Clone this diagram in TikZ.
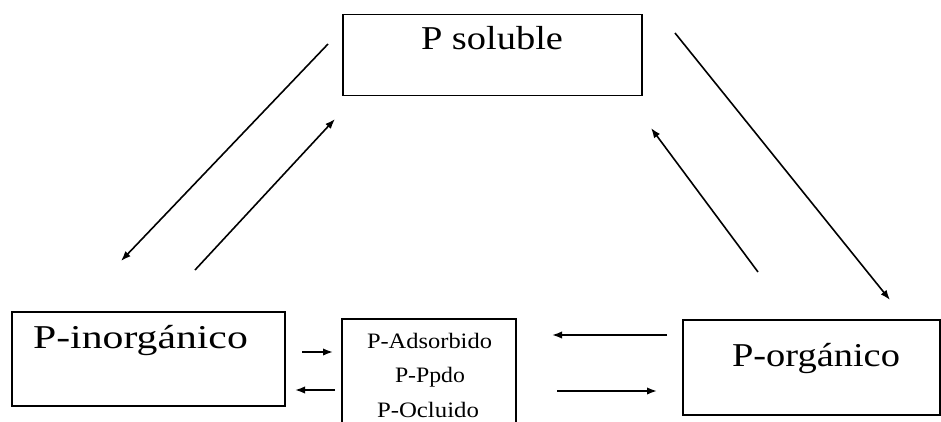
\documentclass[tikz,border=0pt]{standalone}
\usepackage{fontspec}
\setmainfont{Liberation Serif}
\usetikzlibrary{arrows.meta}
% stretch a label horizontally to a given width, keeping its height
\newcommand{\stretchto}[2]{\resizebox{#1}{\height}{#2}}
\begin{document}
\begin{tikzpicture}[x=0.75pt,y=-0.75pt,
  pool/.style={draw,line width=1.2pt,rectangle,inner sep=0pt,outer sep=0pt},
  bigtxt/.style={font=\fontsize{25pt}{29pt}\selectfont,anchor=base,inner sep=0pt},
  smalltxt/.style={font=\fontsize{16.5pt}{19pt}\selectfont,anchor=base,inner sep=0pt},
  flow/.style={line width=1.2pt,-{Latex[length=7.5pt,width=5.5pt]}}]
\useasboundingbox (0,0) rectangle (941,421);

% phosphorus pools
\node[pool,minimum width=224.25pt,minimum height=60.75pt] (sol) at (492.5,55) {};
\node[pool,minimum width=204.75pt,minimum height=70.5pt] (inorg) at (148.5,359) {};
\node[pool,minimum width=192.75pt,minimum height=71.25pt] (org) at (811.5,367.5) {};
\node[pool,minimum width=130.5pt,minimum height=90.75pt] (mid) at (429,379.5) {};

% labels
\node[bigtxt] (solt) at (492,50) {\stretchto{106.5pt}{P soluble}};
\node[bigtxt] (inorgt) at (140.5,348) {\stretchto{161pt}{P-inorgánico}};
\node[bigtxt] (orgt) at (816,366) {\stretchto{126pt}{P-orgánico}};
\node[smalltxt] (ads) at (429.5,348) {\stretchto{93.75pt}{P-Adsorbido}};
\node[smalltxt] (ppd) at (430,382.5) {\stretchto{52.5pt}{P-Ppdo}};
\node[smalltxt] (ocl) at (428,417) {\stretchto{76.5pt}{P-Ocluido}};

% arrow end points
\coordinate (a1s) at (328,44);  \coordinate (a1e) at (121,261);
\coordinate (a2s) at (195,270); \coordinate (a2e) at (335,119);
\coordinate (a3s) at (675,33);  \coordinate (a3e) at (890,300);
\coordinate (a4s) at (758,272); \coordinate (a4e) at (651,128);
\coordinate (h1s) at (302,352); \coordinate (h1e) at (333,352);
\coordinate (h2s) at (335,390); \coordinate (h2e) at (295,390);
\coordinate (h3s) at (667,335); \coordinate (h3e) at (552,335);
\coordinate (h4s) at (557,391); \coordinate (h4e) at (657,391);

% fluxes
\draw[flow] (a1s) -- (a1e);
\draw[flow] (a2s) -- (a2e);
\draw[flow] (a3s) -- (a3e);
\draw[flow] (a4s) -- (a4e);
\draw[flow] (h1s) -- (h1e);
\draw[flow] (h2s) -- (h2e);
\draw[flow] (h3s) -- (h3e);
\draw[flow] (h4s) -- (h4e);
\end{tikzpicture}
\end{document}
